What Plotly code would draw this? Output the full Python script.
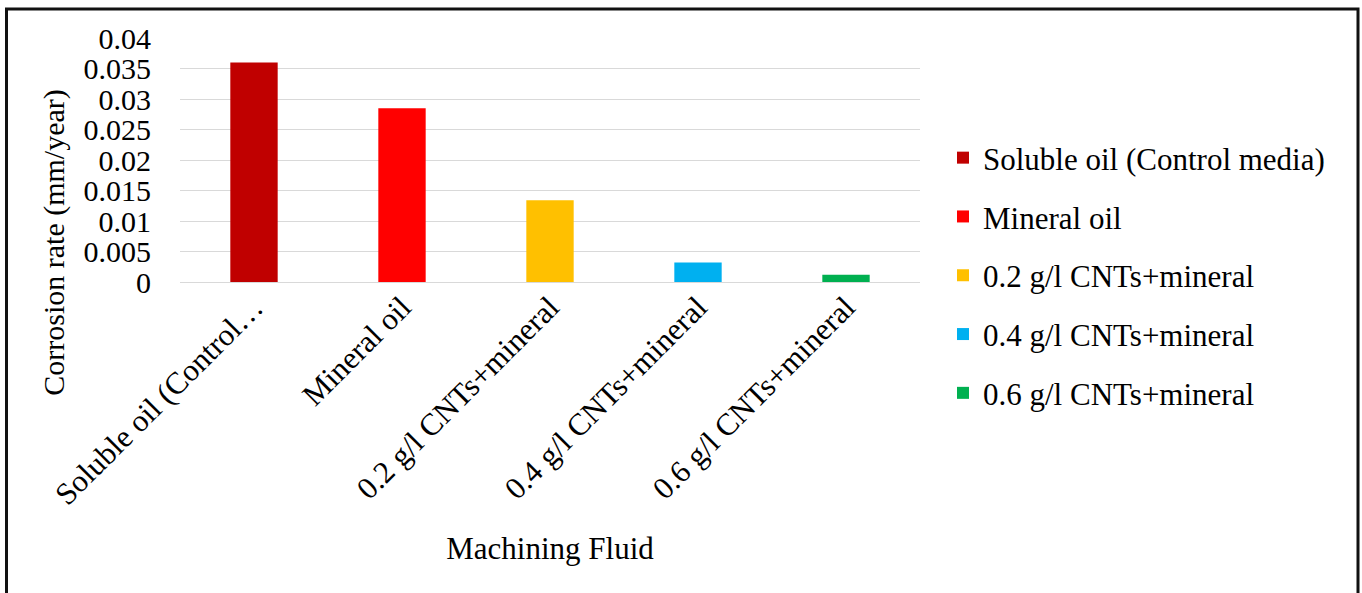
import plotly.graph_objects as go

# Corrosion rate of each machining fluid
categories = [
    "Soluble oil (Control media)",
    "Mineral oil",
    "0.2 g/l CNTs+mineral",
    "0.4 g/l CNTs+mineral",
    "0.6 g/l CNTs+mineral",
]
tick_labels = [
    "Soluble oil (Control…",
    "Mineral oil",
    "0.2 g/l CNTs+mineral",
    "0.4 g/l CNTs+mineral",
    "0.6 g/l CNTs+mineral",
]
corrosion_rate = [0.036, 0.0285, 0.0134, 0.0032, 0.0012]
bar_colors = ["#C00000", "#FF0000", "#FFC000", "#00B0F0", "#00B050"]

y_title = "Corrosion rate (mm/year)"
x_title = "Machining Fluid"

FONT = "Times New Roman, Liberation Serif, serif"

W, H = 1362, 593
L, R, T, B = 180, 920, 38, 282.3  # plot area in pixels

fig = go.Figure()
for i, (cat, val, col) in enumerate(zip(categories, corrosion_rate, bar_colors)):
    fig.add_trace(go.Bar(
        x=[cat], y=[val], name=cat,
        marker=dict(color=col, line=dict(width=0)),
        width=0.32, legendgroup=f"g{i}",
    ))

def px_x(x):
    return (x - L) / (R - L)

def px_y(y):
    return (B - y) / (B - T)

fig.update_layout(
    width=W, height=H,
    margin=dict(l=L, r=W - R, t=T, b=H - B, autoexpand=False),
    paper_bgcolor="white", plot_bgcolor="white",
    barmode="overlay",
    font=dict(family=FONT, size=30, color="black"),
    showlegend=True,
    legend=dict(
        xref="container", yref="container",
        x=943 / W, y=1 - 131 / H, xanchor="left", yanchor="top",
        font=dict(family=FONT, size=31, color="black"),
        traceorder="grouped", tracegroupgap=15.5,
        bgcolor="rgba(0,0,0,0)",
        itemclick=False,
    ),
    xaxis=dict(
        tickmode="array", tickvals=categories, ticktext=tick_labels,
        tickangle=-45, tickfont=dict(family=FONT, size=31),
        showgrid=False, showline=False, ticks="", zeroline=False,
        title=dict(text=x_title, font=dict(family=FONT, size=31), standoff=26),
        automargin=False,
    ),
    yaxis=dict(
        range=[0, 0.04], dtick=0.005, tick0=0,
        tickfont=dict(family=FONT, size=30),
        showgrid=True, gridcolor="#D9D9D9", gridwidth=1.3,
        zeroline=True, zerolinecolor="#D9D9D9", zerolinewidth=1.3,
        showline=False, ticks="", ticklabelstandoff=28,
        automargin=False,
    ),
    annotations=[dict(
        text=y_title, textangle=-90, showarrow=False,
        xref="paper", yref="paper", x=px_x(54), y=px_y(243),
        xanchor="center", yanchor="middle",
        font=dict(family=FONT, size=30, color="black"),
    )],
    shapes=[dict(
        type="rect", xref="paper", yref="paper",
        x0=px_x(6.5), x1=px_x(1358), y0=px_y(620), y1=px_y(9),
        line=dict(color="#111111", width=3), fillcolor="rgba(0,0,0,0)", layer="above",
    )],
)

fig.write_html("out.html")
